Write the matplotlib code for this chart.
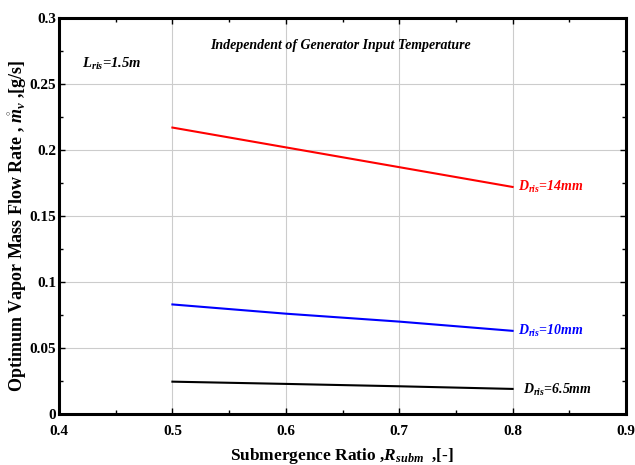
import matplotlib
matplotlib.use("Agg")
import matplotlib.pyplot as plt
from matplotlib.ticker import MultipleLocator

plt.rcParams['font.family'] = ['Liberation Serif', 'DejaVu Serif']
plt.rcParams['mathtext.fontset'] = 'custom'
plt.rcParams['mathtext.rm'] = 'Liberation Serif:bold'
plt.rcParams['mathtext.it'] = 'Liberation Serif:bold:italic'
plt.rcParams['mathtext.bf'] = 'Liberation Serif:bold'

r_subm = [0.5, 0.6, 0.7, 0.8]
m_14mm = [0.217, 0.202, 0.187, 0.172]
m_10mm = [0.083, 0.076, 0.070, 0.063]
m_6_5mm = [0.0245, 0.0228, 0.0210, 0.019]
labels = [r"$D_{ris}$=14mm", r"$D_{ris}$=10mm", r"$D_{ris}$=6.5mm"]
colors = ["#ff0000", "#0000ff", "#000000"]
x_ticks = [0.4, 0.5, 0.6, 0.7, 0.8, 0.9]
x_tick_labels = ["0.4", "0.5", "0.6", "0.7", "0.8", "0.9"]
y_ticks = [0, 0.05, 0.1, 0.15, 0.2, 0.25, 0.3]
y_tick_labels = ["0", "0.05", "0.1", "0.15", "0.2", "0.25", "0.3"]

fig = plt.figure(figsize=(6.35, 4.65), dpi=100)
ax = fig.add_axes([59/635, 1 - 414/465, (626-59)/635, (414-18)/465])

for ys, c in zip([m_14mm, m_10mm, m_6_5mm], colors):
    ax.plot(r_subm, ys, color=c, lw=1.5)

fs_ann = 10
ax.text(0.805, m_14mm[-1], labels[0], color=colors[0], fontsize=fs_ann, fontweight='bold',
        style='italic', va='center', ha='left')
ax.text(0.805, m_10mm[-1], labels[1], color=colors[1], fontsize=fs_ann, fontweight='bold',
        style='italic', va='center', ha='left')
ax.text(0.809, m_6_5mm[-1] - 0.0005, labels[2], color=colors[2], fontsize=fs_ann, fontweight='bold',
        style='italic', va='center', ha='left')

ax.text(0.420, 0.265, r"$L_{ris}$=1.5m", fontsize=10.5, fontweight='bold', style='italic',
        va='center', ha='left')
ax.text(0.533, 0.279, "Independent of Generator Input Temperature", fontsize=10,
        fontweight='bold', style='italic', va='center', ha='left')

ax.set_xlim(0.4, 0.9)
ax.set_ylim(0, 0.3)
ax.set_xticks(x_ticks)
ax.set_xticklabels(x_tick_labels)
ax.set_yticks(y_ticks)
ax.set_yticklabels(y_tick_labels)
ax.xaxis.set_minor_locator(MultipleLocator(0.05))
ax.yaxis.set_minor_locator(MultipleLocator(0.025))

ax.grid(True, which='major', color='#cccccc', lw=0.8)
ax.tick_params(which='both', direction='in', top=True, right=True, labelsize=11)
ax.tick_params(axis='x', pad=8)
ax.tick_params(axis='y', pad=2)
ax.tick_params(which='major', length=4, width=1)
ax.tick_params(which='minor', length=3, width=1)
for lab in ax.get_xticklabels() + ax.get_yticklabels():
    lab.set_fontweight('bold')
for s in ax.spines.values():
    s.set_linewidth(2.2)

ax.set_xlabel(r"Submergence Ratio ,$R_{subm}$  ,[-]", fontsize=12.5, fontweight='bold', labelpad=6)
ax.set_ylabel(r"Optimum Vapor Mass Flow Rate , $\mathring{m}_v$ ,[g/s]", fontsize=13,
              fontweight='bold', labelpad=0)
ax.yaxis.label.set_y(0.475)

fig.savefig("out.png", dpi=100)
